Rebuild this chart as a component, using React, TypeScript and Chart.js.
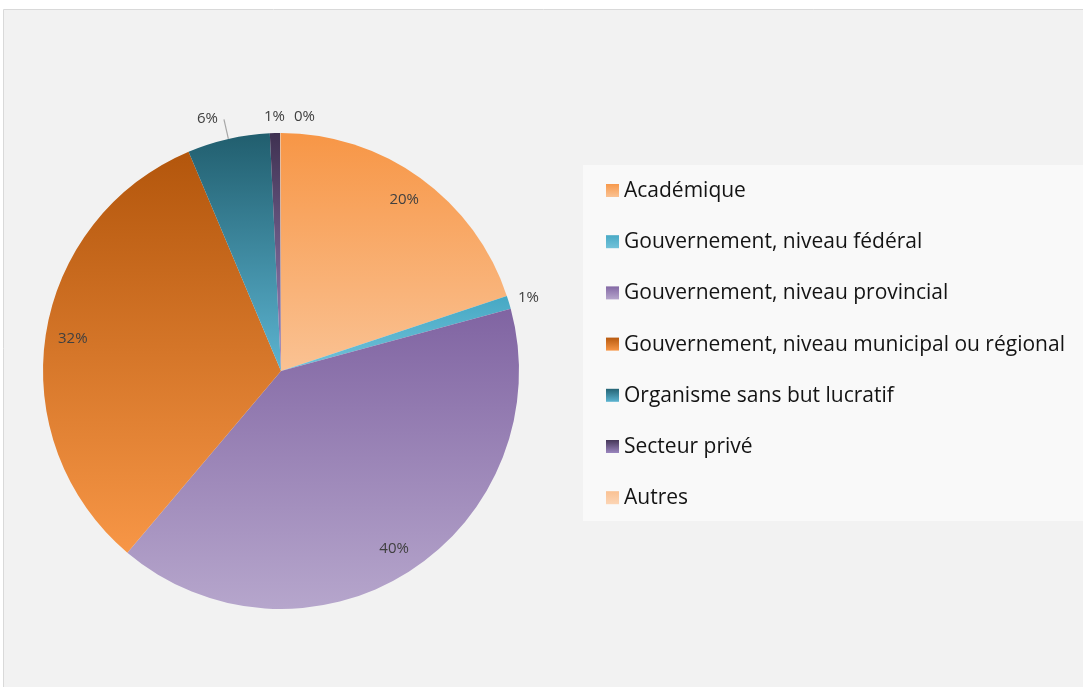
import React, { useEffect, useRef } from "react";
import { Chart, registerables } from "chart.js";

Chart.register(...registerables);

// ---- Data ----
const categories = [
  "Académique",
  "Gouvernement, niveau fédéral",
  "Gouvernement, niveau provincial",
  "Gouvernement, niveau municipal ou régional",
  "Organisme sans but lucratif",
  "Secteur privé",
  "Autres",
];
const shares = [19.9, 0.9, 40.4, 32.5, 5.6, 0.7, 0.05];
const percentLabels = ["20%", "1%", "40%", "32%", "6%", "1%", "0%"];
const colorTop = ["#F79646", "#46A8C4", "#8064A2", "#B3560C", "#215E6E", "#3F3151", "#FAC090"];
const colorBottom = ["#FAC293", "#72C2D9", "#B6A6CC", "#F79646", "#5CB4D1", "#9B86BF", "#FCD5B5"];

const FONT = "'Open Sans', 'Noto Sans', sans-serif";
const total = shares.reduce((a, b) => a + b, 0);

function arcGradient(chart: any, i: number) {
  const area = chart.chartArea;
  if (!area) return colorTop[i];
  const cx = (area.left + area.right) / 2;
  const cy = (area.top + area.bottom) / 2;
  const r = Math.min(area.right - area.left, area.bottom - area.top) / 2;
  let start = -Math.PI / 2;
  for (let k = 0; k < i; k++) start += (shares[k] / total) * Math.PI * 2;
  const end = start + (shares[i] / total) * Math.PI * 2;
  const ys = [cy, cy + r * Math.sin(start), cy + r * Math.sin(end)];
  const within = (a: number) => {
    for (let t = -2; t <= 2; t++) {
      const aa = a + t * Math.PI * 2;
      if (aa >= start && aa <= end) return true;
    }
    return false;
  };
  if (within(-Math.PI / 2)) ys.push(cy - r);
  if (within(Math.PI / 2)) ys.push(cy + r);
  const top = Math.min(...ys);
  const bottom = Math.max(...ys);
  const g = chart.ctx.createLinearGradient(0, top, 0, Math.max(bottom, top + 1));
  g.addColorStop(0, colorTop[i]);
  g.addColorStop(1, colorBottom[i]);
  return g;
}

const backgroundPlugin = {
  id: "bgFrame",
  beforeDraw(chart: any) {
    const ctx = chart.ctx;
    ctx.save();
    ctx.fillStyle = "#FFFFFF";
    ctx.fillRect(0, 0, chart.width, chart.height);
    ctx.fillStyle = "#F2F2F2";
    ctx.fillRect(4, 10, chart.width - 4, chart.height - 10);
    ctx.strokeStyle = "#D9D9D9";
    ctx.lineWidth = 1;
    ctx.beginPath();
    ctx.moveTo(3.5, chart.height);
    ctx.lineTo(3.5, 9.5);
    ctx.lineTo(chart.width, 9.5);
    ctx.stroke();
    ctx.restore();
  },
};

const legendPlugin = {
  id: "customLegend",
  afterDraw(chart: any) {
    const ctx = chart.ctx;
    ctx.save();
    ctx.fillStyle = "#F9F9F9";
    ctx.fillRect(583, 165, chart.width - 583, 356);
    ctx.font = `21px ${FONT}`;
    ctx.textBaseline = "middle";
    ctx.textAlign = "left";
    const labels: string[] = chart.data.labels;
    labels.forEach((lab, i) => {
      const yc = 190 + i * 51.2;
      const g = ctx.createLinearGradient(0, yc - 7, 0, yc + 7);
      g.addColorStop(0, colorTop[i]);
      g.addColorStop(1, colorBottom[i]);
      ctx.fillStyle = g;
      ctx.fillRect(606, yc - 6, 13, 13);
      ctx.fillStyle = "#141414";
      ctx.fillText(lab, 624, yc + 1);
    });
    ctx.restore();
  },
};

const sliceLabelPlugin = {
  id: "sliceLabels",
  afterDatasetsDraw(chart: any) {
    const meta = chart.getDatasetMeta(0);
    const ctx = chart.ctx;
    ctx.save();
    ctx.font = `15px ${FONT}`;
    ctx.fillStyle = "#404040";
    ctx.textAlign = "center";
    ctx.textBaseline = "middle";
    let prev: any = null;
    meta.data.forEach((el: any, i: number) => {
      const p = el.getProps(["x", "y", "startAngle", "endAngle", "outerRadius"], true);
      const mid = (p.startAngle + p.endAngle) / 2;
      const c = Math.cos(mid);
      const s = Math.sin(mid);
      const r = p.outerRadius;
      const pct = (shares[i] / total) * 100;
      const text = percentLabels[i];
      const w = ctx.measureText(text).width;
      let lx: number, ly: number;
      if (pct >= 10) {
        lx = p.x + c * r * 0.885;
        ly = p.y + s * r * 0.885;
        prev = null;
      } else if (pct >= 3) {
        const ex = p.x + c * r, ey = p.y + s * r;
        const ax = p.x + c * (r + 20), ay = p.y + s * (r + 20);
        ctx.strokeStyle = "#A6A6A6";
        ctx.lineWidth = 1.2;
        ctx.beginPath();
        ctx.moveTo(ex, ey);
        ctx.lineTo(ax, ay);
        ctx.stroke();
        lx = c < 0 ? ax - 6 - w / 2 : ax + 6 + w / 2;
        ly = ay - 1;
        prev = null;
      } else {
        const d = r + 16;
        lx = p.x + c * d + c * (w / 2 - 6);
        ly = p.y + s * d;
        if (prev && lx - w / 2 < prev.right + 8 && Math.abs(ly - prev.y) < 16) {
          lx = prev.right + 9 + w / 2;
          ly = prev.y;
        }
        prev = { right: lx + w / 2, y: ly };
      }
      ctx.fillText(text, lx, ly);
    });
    ctx.restore();
  },
};

export default function App() {
  const canvasRef = useRef<HTMLCanvasElement | null>(null);

  useEffect(() => {
    document.body.style.margin = "0";
    const canvas = canvasRef.current;
    if (!canvas) return;
    const chart = new Chart(canvas, {
      type: "pie",
      data: {
        labels: categories,
        datasets: [
          {
            data: shares,
            backgroundColor: (ctx: any) => arcGradient(ctx.chart, ctx.dataIndex),
            borderWidth: 0,
          },
        ],
      },
      options: {
        responsive: false,
        animation: false,
        devicePixelRatio: 1,
        layout: { padding: { left: 43, right: 564, top: 133, bottom: 78 } },
        plugins: {
          legend: { display: false },
          tooltip: { enabled: false },
        },
      },
      plugins: [backgroundPlugin, sliceLabelPlugin, legendPlugin],
    } as any);
    return () => chart.destroy();
  }, []);

  return (
    <div style={{ width: 1083, height: 687 }}>
      <canvas ref={canvasRef} width={1083} height={687} style={{ display: "block" }} />
    </div>
  );
}
